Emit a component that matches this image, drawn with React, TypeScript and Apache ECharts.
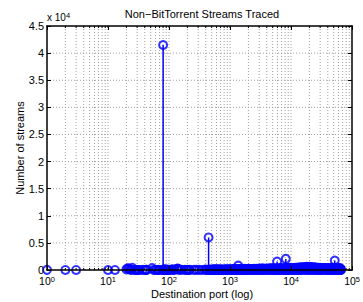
import React, { useEffect, useRef } from 'react';
import * as echarts from 'echarts';

const TITLE = 'Non\u2212BitTorrent Streams Traced';
const X_NAME = 'Destination port (log)';
const Y_NAME = 'Number of streams';
const Y_TICKS = [0, 5000, 10000, 15000, 20000, 25000, 30000, 35000, 40000, 45000];
const X_DECADES = [1, 10, 100, 1000, 10000, 100000];
const X_MINORS = [
  2, 3, 4, 5, 6, 7, 8, 9,
  20, 30, 40, 50, 60, 70, 80, 90,
  200, 300, 400, 500, 600, 700, 800, 900,
  2000, 3000, 4000, 5000, 6000, 7000, 8000, 9000,
  20000, 30000, 40000, 50000, 60000, 70000, 80000, 90000,
];

// destination ports and number of streams per port (busier ports)
const ports = [
  1, 2, 3, 10, 13, 20, 21, 22, 23, 24, 25, 27, 28, 30, 31, 33, 37, 40, 42, 43, 53, 56, 59, 63, 67, 69, 79,
  80, 81, 82, 83, 84, 85, 86, 88, 90, 92, 95, 98, 100,
  102, 110, 113, 119, 123, 135, 137, 139, 143, 150, 161, 179, 194, 199, 210, 220, 256, 280, 311, 347, 389, 407, 427,
  445, 465, 500, 513, 540, 554, 563, 587, 600, 631, 660, 700, 720, 750, 800, 830, 873, 900, 950, 993,
  1025, 1080, 1110, 1150, 1194, 1214, 1270, 1337, 1360, 1433, 1500, 1560, 1650, 1723, 1800, 1863, 1935,
  2000, 2100, 2200, 2300, 2400, 2535, 2703, 2800, 3000, 3128, 3306, 3389, 3500, 3690, 3900,
  4000, 4242, 4444, 4662, 4899, 5000, 5190, 5500, 5800, 5900, 6112, 6346, 6667, 6881, 7000, 7500, 7900,
  8080, 8200, 8443, 8888, 9100, 9500,
  10000, 10500, 11000, 11500, 12000, 12700, 13400, 14000, 14800, 15600, 16400, 17300, 18200, 19200,
  20200, 21300, 22400, 23600, 24800, 26100, 27500, 29000, 30500, 32100, 33800, 35600, 37500, 39500,
  41600, 43800, 46100, 48500, 51000, 52000, 53700, 56500, 59500, 62600, 64000, 65000, 65535,
];
const streams = [
  30, 5, 8, 3, 6, 120, 300, 250, 90, 10, 400, 12, 6, 8, 10, 5, 15, 6, 20, 30, 350, 10, 8, 12, 25, 10, 30,
  41500, 20, 60, 15, 10, 30, 12, 150, 25, 10, 40, 8, 20,
  10, 80, 60, 90, 30, 200, 150, 250, 120, 15, 40, 20, 10, 30, 12, 25, 18, 15, 20, 10, 60, 30, 15,
  6000, 60, 30, 80, 20, 120, 40, 90, 30, 150, 40, 60, 20, 100, 50, 30, 120, 40, 70, 130,
  20, 90, 15, 110, 30, 200, 10, 120, 800, 180, 20, 150, 30, 200, 10, 180, 20,
  220, 40, 110, 190, 20, 120, 230, 15, 250, 30, 210, 300, 20, 200, 40,
  260, 20, 220, 350, 30, 280, 40, 300, 20, 1550, 280, 30, 250, 380, 20, 250, 40,
  420, 2050, 30, 360, 20, 320,
  400, 30, 350, 20, 420, 40, 450, 30, 500, 60, 560, 40, 600, 50,
  580, 30, 520, 40, 460, 20, 420, 30, 400, 20, 380, 40, 360, 20,
  330, 30, 420, 20, 400, 1750, 30, 420, 20, 300, 30, 200, 20,
];

// quieter ports (few streams each) filling the band along the bottom
const quietPorts = [
  455, 480, 506, 527, 547, 558, 575, 593, 615, 645,
  680, 710, 735, 775, 815, 850, 886, 925, 970, 1010,
  1050, 1095, 1130, 1170, 1204, 1240, 1300, 1350, 1400, 1470,
  1530, 1600, 1690, 1760, 1830, 1900, 1970, 2050, 2150, 2250,
  2350, 2470, 2620, 2750, 2900, 3060, 3210, 3350, 3440, 3600,
  3800, 3950, 4120, 4340, 4550, 4780, 4950, 5100, 5340, 5650,
  5850, 6000, 6230, 6500, 6770, 6940, 7250, 7700, 7990, 8140,
  8320, 8660, 9000, 9300, 9750, 10250, 10750, 11250, 11750, 12350,
  13050, 13700, 14400, 15200, 16000, 16850, 17750, 18700, 19700, 20750,
  21850, 23000, 24200, 25450, 26800, 28250, 29750, 31300, 32950, 34700,
  36550, 38500, 40550, 42700, 44950, 47300, 49750, 51500, 52850, 55100,
  58000, 61000, 63300, 64500, 65300,
];
const quietStreams = [
  10, 50, 5, 90, 20, 40, 10, 70, 15, 60,
  100, 20, 80, 10, 120, 30, 60, 10, 140, 40,
  10, 160, 30, 80, 10, 150, 40, 20, 160, 10,
  120, 30, 180, 10, 140, 50, 190, 10, 160, 60,
  20, 210, 30, 180, 10, 240, 40, 150, 20, 230,
  10, 200, 50, 260, 20, 180, 30, 240, 10, 290,
  40, 200, 10, 310, 50, 230, 20, 320, 10, 260,
  30, 340, 20, 300, 10, 330, 40, 380, 20, 400,
  30, 430, 20, 470, 40, 500, 30, 540, 20, 560,
  40, 500, 20, 450, 30, 420, 20, 380, 40, 350,
  20, 380, 30, 340, 20, 380, 40, 360, 20, 400,
  30, 380, 20, 260, 40,
];

const FONT = '"Liberation Sans", Arial, Helvetica, sans-serif';
const BLUE = '#0000ff';

export default function App() {
  const ref = useRef<HTMLDivElement>(null);
  useEffect(() => {
    const chart = echarts.init(ref.current as HTMLDivElement, null, { renderer: 'svg' });
    const pts = [
      ...ports.map((p, i) => [p, streams[i]]),
      ...quietPorts.map((p, i) => [p, quietStreams[i]]),
    ];
    const xMin = X_DECADES[0];
    const xMax = X_DECADES[X_DECADES.length - 1];
    const yMax = Y_TICKS[Y_TICKS.length - 1];
    const axisLine = { show: true, onZero: false, lineStyle: { color: '#000', width: 1.5 } };
    const tick = { show: true, inside: true, length: 4, lineStyle: { color: '#000', width: 1 } };
    const dotted = { stroke: '#a0a0a0', lineWidth: 1, lineDash: [1, 2] };

    chart.setOption({
      animation: false,
      grid: { left: 47, top: 26, width: 310, height: 244, containLabel: false },
      xAxis: [
        {
          type: 'log', logBase: 10, min: xMin, max: xMax, position: 'bottom', z: 10,
          axisLine, axisTick: tick, splitLine: { show: false },
          axisLabel: {
            margin: 5,
            formatter: (v: number) => `{b|10}{s|${Math.round(Math.log10(v))}}`,
            rich: {
              b: { fontSize: 10.5, fontFamily: FONT, color: '#000', lineHeight: 11, verticalAlign: 'bottom' },
              s: { fontSize: 7.5, fontFamily: FONT, color: '#000', lineHeight: 8, verticalAlign: 'top', padding: [0, 0, 7, 0] },
            },
          },
        },
        {
          type: 'log', logBase: 10, min: xMin, max: xMax, position: 'top', z: 10,
          axisLine, axisTick: tick, splitLine: { show: false }, axisLabel: { show: false },
        },
      ],
      yAxis: [
        {
          type: 'value', min: 0, max: yMax, interval: 5000, position: 'left', z: 10,
          axisLine, axisTick: tick, splitLine: { show: false },
          axisLabel: {
            margin: 3, fontSize: 11, fontFamily: FONT, color: '#000',
            formatter: (v: number) => String(v / 10000),
          },
        },
        {
          type: 'value', min: 0, max: yMax, interval: 5000, position: 'right', z: 10,
          axisLine, axisTick: tick, splitLine: { show: false }, axisLabel: { show: false },
        },
      ],
      graphic: [
        {
          type: 'text', x: 202, y: 14, z: 20,
          style: { text: TITLE, font: `11px ${FONT}`, fill: '#000', textAlign: 'center', textVerticalAlign: 'middle' },
        },
        {
          type: 'text', x: 202, y: 294, z: 20,
          style: { text: X_NAME, font: `11px ${FONT}`, fill: '#000', textAlign: 'center', textVerticalAlign: 'middle' },
        },
        {
          type: 'text', x: 20, y: 148, rotation: Math.PI / 2, z: 20,
          style: { text: Y_NAME, font: `11px ${FONT}`, fill: '#000', textAlign: 'center', textVerticalAlign: 'middle' },
        },
        {
          type: 'text', x: 47, y: 11, z: 20,
          style: {
            text: '{b|x 10}{s|4}',
            rich: {
              b: { fontSize: 10, fontFamily: FONT, fill: '#000', lineHeight: 11, verticalAlign: 'bottom' },
              s: { fontSize: 7.5, fontFamily: FONT, fill: '#000', lineHeight: 8, verticalAlign: 'top', padding: [0, 0, 7, 0] },
            },
          },
        },
      ],
      series: [
        {
          type: 'custom', name: 'hgrid', silent: true, z: 1, clip: false,
          data: Y_TICKS.slice(1, -1).map((y) => [xMin, y]),
          renderItem: (_p: any, api: any) => {
            const y = api.value(1);
            const a = api.coord([xMin, y]);
            const b = api.coord([xMax, y]);
            return { type: 'line', shape: { x1: a[0], y1: a[1], x2: b[0], y2: b[1] }, style: dotted };
          },
        },
        {
          type: 'custom', name: 'vgrid', silent: true, z: 1, clip: false,
          data: [...X_DECADES.slice(1, -1), ...X_MINORS].map((x) => [x, 0]),
          renderItem: (_p: any, api: any) => {
            const x = api.value(0);
            const t = api.coord([x, yMax]);
            const b = api.coord([x, 0]);
            return {
              type: 'group',
              children: [
                { type: 'line', shape: { x1: t[0], y1: t[1], x2: b[0], y2: b[1] }, style: dotted },
                { type: 'line', z2: 5, shape: { x1: b[0], y1: b[1], x2: b[0], y2: b[1] - 2 }, style: { stroke: '#000', lineWidth: 1 } },
                { type: 'line', z2: 5, shape: { x1: t[0], y1: t[1], x2: t[0], y2: t[1] + 2 }, style: { stroke: '#000', lineWidth: 1 } },
              ],
            };
          },
        },
        {
          type: 'custom', name: 'stems', silent: true, z: 3,
          data: pts,
          renderItem: (_p: any, api: any) => {
            const x = api.value(0);
            const v = api.value(1);
            const a = api.coord([x, 0]);
            const b = api.coord([x, v]);
            return { type: 'line', shape: { x1: a[0], y1: a[1], x2: b[0], y2: b[1] }, style: { stroke: BLUE, lineWidth: 1.5 } };
          },
        },
        {
          type: 'scatter', name: 'streams', silent: true, z: 4,
          data: pts, symbol: 'circle', symbolSize: 8, clip: false,
          itemStyle: { color: 'rgba(0,0,0,0)', borderColor: BLUE, borderWidth: 2 },
        },
      ],
    });
    return () => chart.dispose();
  }, []);
  return <div ref={ref} style={{ width: 363, height: 302, position: 'absolute', left: 0, top: 0, background: '#fff' }} />;
}
